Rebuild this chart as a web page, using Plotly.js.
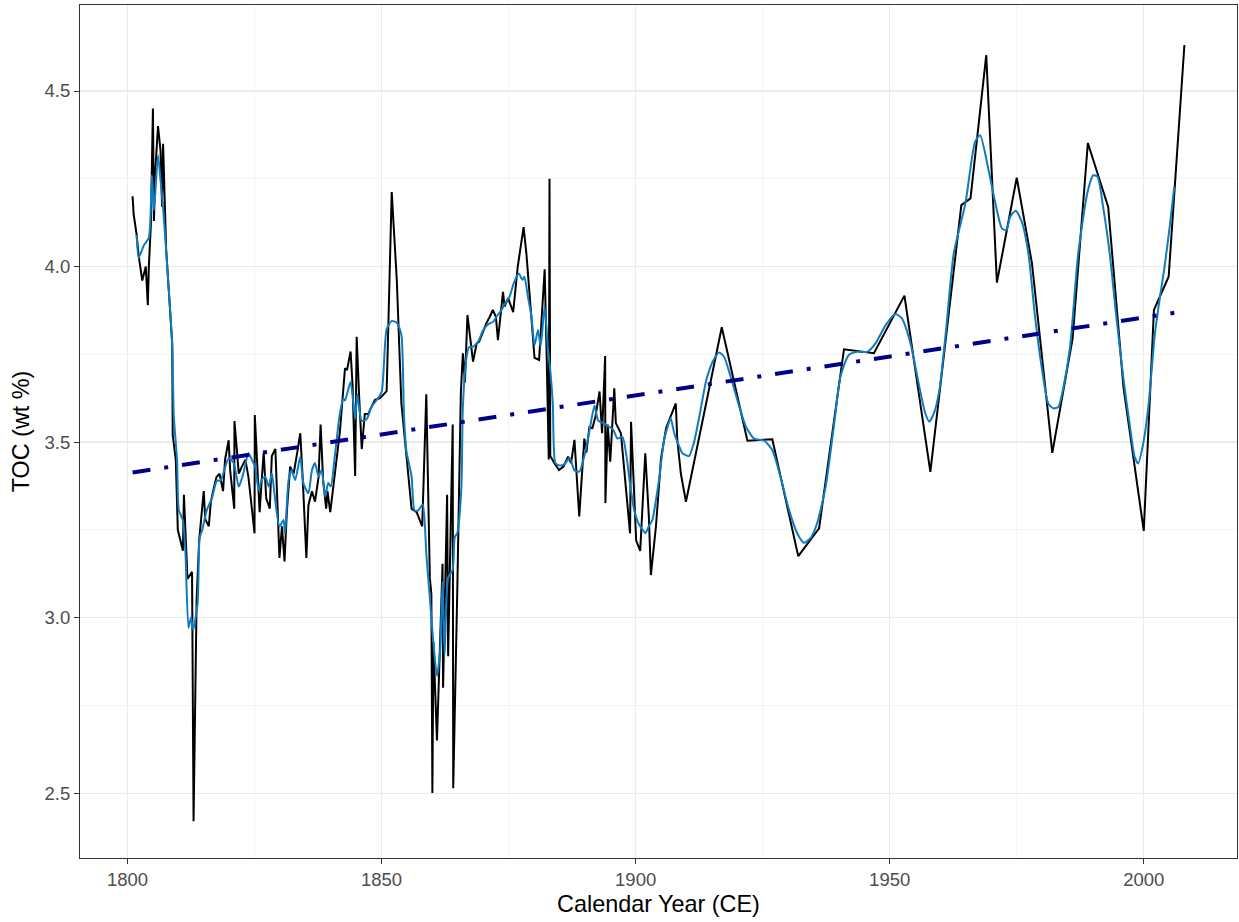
<!DOCTYPE html>
<html>
<head>
<meta charset="utf-8">
<script src="https://cdn.plot.ly/plotly-3.0.1.min.js"></script>
<style>html,body{margin:0;padding:0;background:#fff;}#chart{width:1239px;height:922px;}</style>
</head>
<body>
<div id="chart"></div>
<script>
// Raw TOC measurements (black line)
const rawYears = [1801.0,1801.2,1801.8,1802.2,1802.9,1803.6,1804.0,1804.2,1804.6,1805.0,1805.2,1805.5,1806.0,1806.5,1806.8,1807.0,1807.6,1808.8,1808.9,1809.5,1809.9,1810.5,1810.9,1811.1,1811.8,1812.7,1813.0,1813.6,1814.1,1815.0,1815.3,1816.0,1816.4,1817.0,1817.5,1818.1,1818.8,1819.2,1819.9,1820.2,1821.0,1821.05,1821.9,1822.5,1823.2,1823.8,1824.2,1825.0,1825.05,1825.5,1826.0,1826.4,1826.8,1827.3,1828.0,1828.4,1829.1,1829.9,1830.4,1830.9,1831.35,1832.0,1832.7,1833.4,1834.0,1834.5,1835.2,1835.6,1836.3,1836.9,1837.6,1838.0,1838.5,1839.1,1839.35,1839.9,1840.8,1841.8,1842.8,1843.2,1843.9,1844.3,1844.8,1845.1,1845.6,1846.1,1846.7,1847.4,1848.0,1848.7,1849.7,1850.7,1851.0,1852.0,1853.0,1853.9,1854.9,1855.9,1856.9,1857.5,1858.0,1858.8,1859.5,1859.8,1860.0,1860.2,1860.9,1862.0,1862.1,1862.9,1863.1,1864.0,1864.1,1864.9,1865.6,1866.0,1866.4,1866.9,1868.0,1868.7,1869.2,1869.6,1870.6,1871.3,1871.9,1872.5,1872.9,1873.9,1874.2,1874.9,1875.9,1876.8,1877.95,1878.5,1880.1,1881.0,1882.1,1882.5,1882.9,1883.05,1883.2,1884.0,1884.9,1885.8,1886.7,1887.3,1887.96,1888.9,1889.9,1890.3,1890.9,1891.5,1892.1,1892.9,1893.4,1894.0,1894.05,1894.5,1895.0,1895.8,1896.1,1897.1,1898.9,1899.1,1899.7,1900.1,1900.9,1901.9,1902.6,1903.0,1904.0,1905.0,1906.0,1906.6,1907.9,1908.2,1908.9,1909.9,1916.95,1922.0,1926.9,1932.0,1936.1,1941.0,1946.9,1952.9,1958.0,1964.1,1965.9,1969.0,1971.1,1975.0,1978.0,1982.0,1986.0,1989.0,1993.0,1996.0,2000.0,2002.0,2004.9,2008.0];
const rawToc = [4.20,4.15,4.09,4.03,3.96,4.00,3.89,4.00,4.12,4.45,4.13,4.28,4.40,4.33,4.17,4.35,4.05,3.78,3.52,3.45,3.25,3.21,3.19,3.35,3.11,3.13,2.42,3.05,3.22,3.36,3.28,3.26,3.33,3.37,3.40,3.41,3.36,3.45,3.505,3.42,3.31,3.56,3.41,3.43,3.45,3.40,3.34,3.24,3.577,3.44,3.30,3.39,3.47,3.34,3.31,3.46,3.48,3.17,3.26,3.16,3.30,3.43,3.41,3.47,3.525,3.39,3.17,3.32,3.36,3.33,3.40,3.55,3.39,3.31,3.36,3.30,3.415,3.53,3.71,3.705,3.758,3.66,3.403,3.80,3.625,3.48,3.58,3.58,3.60,3.62,3.625,3.64,3.645,4.212,3.96,3.61,3.46,3.31,3.30,3.276,3.26,3.636,3.113,3.066,2.50,2.93,2.65,3.153,2.80,3.35,2.89,3.55,2.514,3.078,3.64,3.753,3.67,3.862,3.729,3.78,3.786,3.80,3.838,3.857,3.876,3.857,3.79,3.928,3.886,3.91,3.87,4.0,4.112,4.037,3.74,3.734,3.992,3.74,3.45,4.25,3.46,3.44,3.42,3.43,3.458,3.44,3.506,3.288,3.51,3.47,3.542,3.54,3.573,3.644,3.525,3.745,3.326,3.55,3.444,3.653,3.554,3.525,3.24,3.558,3.36,3.22,3.19,3.468,3.288,3.121,3.26,3.454,3.54,3.563,3.61,3.506,3.41,3.33,3.827,3.504,3.508,3.175,3.254,3.764,3.753,3.917,3.415,4.175,4.194,4.602,3.954,4.253,4.009,3.469,3.795,4.352,4.17,3.657,3.247,3.876,3.971,4.631];

// Smoothed TOC (blue line)
const smoothYears = [1801.8,1802.2,1803.2,1804.2,1804.8,1805.2,1806.0,1806.5,1807.0,1807.8,1808.8,1809.1,1809.75,1810.1,1810.9,1811.4,1812.0,1812.5,1812.9,1813.8,1814.2,1814.7,1815.6,1816.6,1817.6,1818.3,1819.9,1820.9,1821.9,1822.8,1823.8,1824.5,1825.1,1825.8,1826.4,1827.1,1827.8,1828.4,1829.06,1829.9,1830.7,1831.0,1831.7,1832.3,1833.0,1834.0,1834.6,1835.6,1836.3,1836.9,1837.6,1838.2,1838.9,1839.5,1840.0,1840.8,1841.8,1842.5,1842.8,1843.9,1844.8,1845.2,1846.1,1847.1,1848.0,1849.0,1850.0,1851.0,1852.0,1853.0,1853.9,1854.4,1854.9,1855.9,1856.5,1857.2,1858.1,1858.8,1859.5,1860.2,1860.9,1861.5,1862.0,1862.4,1863.1,1864.0,1864.4,1864.9,1865.7,1866.0,1866.7,1867.2,1868.0,1869.0,1870.0,1871.0,1872.0,1872.6,1873.6,1874.55,1875.2,1876.0,1877.0,1877.7,1878.1,1878.8,1879.5,1880.1,1880.8,1881.3,1882.1,1882.7,1883.2,1883.7,1884.2,1885.0,1886.0,1887.0,1888.0,1888.95,1889.9,1890.85,1891.9,1892.6,1893.7,1894.7,1895.6,1896.4,1897.4,1898.2,1898.9,1899.7,1900.7,1901.4,1901.9,1902.6,1903.3,1904.0,1904.6,1905.6,1906.3,1906.9,1907.6,1908.6,1909.2,1910.5,1911.5,1912.5,1913.8,1914.5,1915.2,1916.4,1917.4,1918.7,1920.4,1921.7,1923.3,1925.3,1926.9,1928.5,1930.2,1931.8,1933.1,1934.4,1935.7,1937.4,1939.0,1940.3,1941.95,1943.6,1945.6,1947.2,1949.2,1951.1,1952.4,1954.1,1955.7,1957.0,1957.8,1958.8,1959.8,1961.1,1962.6,1964.9,1966.8,1967.8,1969.45,1970.8,1972.1,1973.0,1973.7,1974.8,1976.0,1977.3,1978.6,1979.9,1981.2,1982.2,1983.2,1984.2,1985.5,1987.1,1988.95,1990.06,1990.9,1992.0,1993.3,1994.6,1995.95,1997.3,1998.2,1998.9,1999.9,2000.9,2002.2,2003.2,2004.1,2005.1,2006.0];
const smoothToc = [4.09,4.025,4.06,4.082,4.26,4.16,4.317,4.246,4.168,4.004,3.776,3.577,3.448,3.306,3.277,3.185,2.971,3.0,2.964,3.042,3.228,3.249,3.306,3.34,3.39,3.39,3.454,3.44,3.373,3.411,3.468,3.449,3.43,3.364,3.392,3.402,3.373,3.411,3.335,3.259,3.278,3.24,3.392,3.42,3.392,3.458,3.383,3.354,3.42,3.44,3.402,3.42,3.345,3.383,3.373,3.46,3.582,3.624,3.618,3.671,3.566,3.636,3.56,3.566,3.60,3.619,3.642,3.822,3.845,3.84,3.805,3.578,3.473,3.403,3.305,3.305,3.322,3.183,3.055,2.927,2.834,2.903,3.101,2.892,3.113,3.136,3.229,3.241,3.369,3.60,3.74,3.77,3.772,3.786,3.819,3.836,3.843,3.857,3.876,3.90,3.914,3.952,3.98,3.962,3.971,3.914,3.857,3.776,3.819,3.772,3.886,3.772,3.705,3.61,3.44,3.433,3.437,3.455,3.418,3.416,3.46,3.527,3.603,3.562,3.553,3.544,3.535,3.51,3.515,3.46,3.38,3.307,3.264,3.25,3.24,3.26,3.278,3.335,3.392,3.506,3.544,3.568,3.525,3.487,3.468,3.46,3.50,3.57,3.67,3.705,3.73,3.755,3.743,3.686,3.601,3.544,3.51,3.504,3.477,3.401,3.306,3.24,3.213,3.226,3.268,3.373,3.544,3.686,3.748,3.757,3.757,3.781,3.833,3.865,3.852,3.781,3.667,3.582,3.558,3.586,3.65,3.82,4.037,4.18,4.355,4.374,4.275,4.18,4.108,4.104,4.142,4.159,4.127,4.037,3.857,3.714,3.61,3.596,3.60,3.657,3.771,4.037,4.213,4.26,4.256,4.17,4.037,3.857,3.686,3.543,3.458,3.439,3.496,3.60,3.81,3.914,4.0,4.113,4.227];

// Linear trend (dot-dash line)
const trendYears = [1801, 2006];
const trendToc = [3.413, 3.868];

// Axis ticks
const xTicks = [1800, 1850, 1900, 1950, 2000];
const yTicks = [2.5, 3.0, 3.5, 4.0, 4.5];
const yTickLabels = ["2.5", "3.0", "3.5", "4.0", "4.5"];

const traces = [
  {x: rawYears, y: rawToc, type: 'scatter', mode: 'lines',
   line: {color: '#000000', width: 2}, hoverinfo: 'skip'},
  {x: smoothYears, y: smoothToc, type: 'scatter', mode: 'lines',
   line: {color: '#0F7BC0', width: 2, shape: 'spline', smoothing: 0.6}, hoverinfo: 'skip'},
  {x: trendYears, y: trendToc, type: 'scatter', mode: 'lines',
   line: {color: '#00008B', width: 4, dash: '18px,14px,4px,14px'}, hoverinfo: 'skip'}
];

const font = 'Liberation Sans, Arial, Helvetica, sans-serif';
const layout = {
  width: 1239, height: 922,
  margin: {l: 80, r: 2, t: 5, b: 64},
  paper_bgcolor: '#ffffff', plot_bgcolor: '#ffffff',
  showlegend: false,
  font: {family: font},
  xaxis: {
    range: [1790.65, 2018.35],
    tickmode: 'array', tickvals: xTicks, ticktext: xTicks.map(String),
    ticks: 'outside', ticklen: 5, tickwidth: 1, tickcolor: '#333333',
    showline: true, mirror: true, linecolor: '#333333', linewidth: 1,
    showgrid: true, gridcolor: '#EBEBEB', gridwidth: 1.1, zeroline: false,
    tickfont: {family: font, size: 18.5, color: '#4D4D4D'},
    minor: {tickmode: 'array', tickvals: [1825, 1875, 1925, 1975], showgrid: true, gridcolor: '#EBEBEB', gridwidth: 0.55, ticks: ''},
    title: {text: 'Calendar Year (CE)', font: {family: font, size: 23.4, color: '#000000'}, standoff: 6}
  },
  yaxis: {
    range: [2.315, 4.745],
    tickmode: 'array', tickvals: yTicks, ticktext: yTickLabels,
    ticks: 'outside', ticklen: 5, tickwidth: 1, tickcolor: '#333333',
    showline: true, mirror: true, linecolor: '#333333', linewidth: 1,
    showgrid: true, gridcolor: '#EBEBEB', gridwidth: 1.1, zeroline: false,
    tickfont: {family: font, size: 18.5, color: '#4D4D4D'},
    minor: {tickmode: 'array', tickvals: [2.75, 3.25, 3.75, 4.25], showgrid: true, gridcolor: '#EBEBEB', gridwidth: 0.55, ticks: ''},
    title: {text: 'TOC (wt %)', font: {family: font, size: 23.4, color: '#000000'}, standoff: 8}
  }
};

Plotly.newPlot('chart', traces, layout, {staticPlot: true, displayModeBar: false});
</script>
</body>
</html>
